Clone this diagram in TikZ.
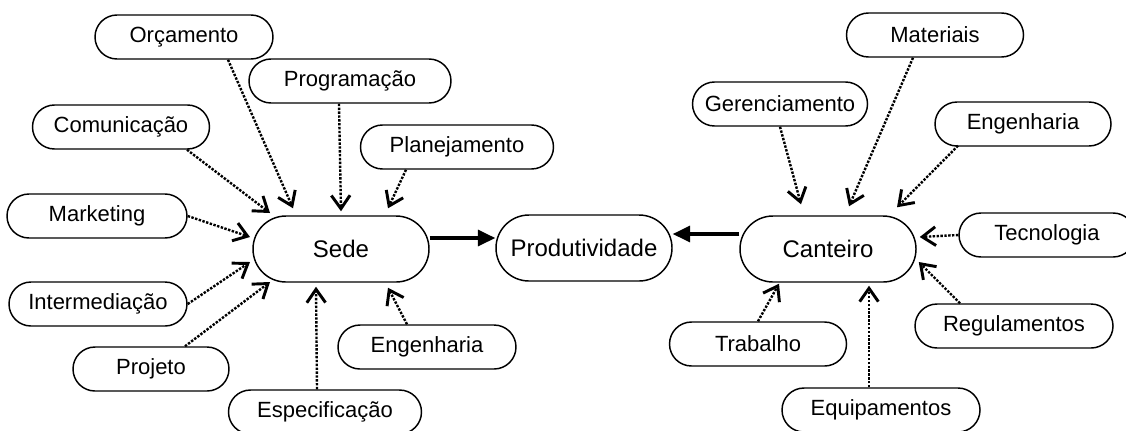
\documentclass[tikz,border=0pt]{standalone}
\usepackage{fontspec}
\setmainfont{Liberation Sans}
\usetikzlibrary{arrows.meta,calc}
\begin{document}
\begin{tikzpicture}[x=0.75pt,y=-0.75pt,
	item/.style={draw, line width=1.1pt, rounded corners=16.5pt, minimum height=33pt, inner xsep=0pt, font=\fontsize{16.5}{18}\selectfont},
	hub/.style={draw, line width=1.1pt, rounded corners=24.75pt, minimum height=49.5pt, minimum width=132pt, inner xsep=0pt, font=\fontsize{18}{20}\selectfont},
	link/.style={line width=1.8pt, dash pattern=on 1.8pt off 1.1pt, -{Straight Barb[length=10pt,width=14pt,line width=2.2pt]}},
	main/.style={line width=2.3pt, -{Triangle[length=13pt,width=12pt]}}]
	\useasboundingbox (0,0) rectangle (1126,430);
	\clip (0,0) rectangle (1126,430);
	\node (sede) at (341,249) [hub] {Sede};
	\node (prod) at (584,248) [hub] {Produtividade};
	\node (cant) at (828,249) [hub] {Canteiro};
		\node (orc) at (184,37) [item, minimum width=133.5pt] {Orçamento};
		\node (prog) at (350,81) [item, minimum width=151.5pt] {Programação};
		\node (comu) at (121,127) [item, minimum width=132.75pt] {Comunicação};
		\node (plan) at (457,147) [item, minimum width=144.75pt] {Planejamento};
		\node (mark) at (97,216) [item, minimum width=135pt] {Marketing};
		\node (inter) at (98,304) [item, minimum width=133.5pt] {Intermediação};
		\node (proj) at (151,369) [item, minimum width=117pt] {Projeto};
		\node (engL) at (427,347) [item, minimum width=133.5pt] {Engenharia};
		\node (espec) at (325,412) [item, minimum width=144.75pt] {Especificação};
		\node (ger) at (780,104) [item, minimum width=131.25pt] {Gerenciamento};
		\node (mat) at (935,35) [item, minimum width=132.75pt] {Materiais};
		\node (engR) at (1023,124) [item, minimum width=132pt] {Engenharia};
		\node (tec) at (1047,235) [item, minimum width=132pt] {Tecnologia};
		\node (reg) at (1014,326) [item, minimum width=148.5pt] {Regulamentos};
		\node (trab) at (758,344) [item, minimum width=132.75pt] {Trabalho};
		\node (equip) at (881,410) [item, minimum width=148.5pt] {Equipamentos};
	\draw[main] ($(sede.east)+(0,-11)$) -- ($(prod.west)+(0,-10)$);
	\draw[main] ($(cant.west)+(0,-15)$) -- ($(prod.east)+(0,-14)$);
	\draw[link] ($(orc.south)+(44,0)$) -- ($(sede.north)+(-48,-7)$);
	\draw[link] ($(prog.south)+(-11,0)$) -- ($(sede.north)+(0,-4)$);
	\draw[link] ($(plan.south)+(-51,0)$) -- ($(sede.north)+(47,-7)$);
	\draw[link] ($(comu.south)+(66,0)$) -- ($(sede.center)+(-71,-36)$);
	\draw[link] (mark.east) -- ($(sede.center)+(-91,-12)$);
	\draw[link] (inter.east) -- ($(sede.center)+(-91,13)$);
	\draw[link] ($(proj.north)+(34,0)$) -- ($(sede.center)+(-71,33)$);
	\draw[link] ($(espec.north)+(-8,0)$) -- ($(sede.south)+(-25,4)$);
	\draw[link] ($(engL.north)+(-20,0)$) -- ($(sede.south)+(47,5)$);
	\draw[link] (ger.south) -- ($(cant.north)+(-27,-11)$);
	\draw[link] ($(mat.south)+(-22,0)$) -- ($(cant.north)+(21,-9)$);
	\draw[link] ($(engR.south)+(-65,-1)$) -- ($(cant.north)+(69,-8)$);
	\draw[link] (tec.west) -- ($(cant.east)+(3,-12)$);
	\draw[link] ($(reg.north)+(-54,0)$) -- ($(cant.east)+(2,13)$);
	\draw[link] (trab.north) -- ($(cant.south)+(-49,1)$);
	\draw[link] ($(equip.north)+(-12,0)$) -- ($(cant.south)+(41,3)$);
\end{tikzpicture}
\end{document}
